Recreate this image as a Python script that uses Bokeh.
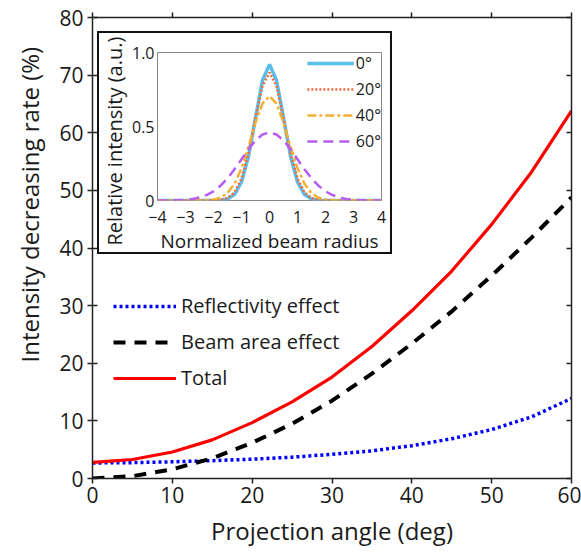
from bokeh.plotting import figure
from bokeh.models import LinearAxis, Legend, LegendItem, FixedTicker, Range1d, Title
from bokeh.embed import file_html
from bokeh.resources import INLINE

# ---- main chart data ----
angle = [0, 5, 10, 15, 20, 25, 30, 35, 40, 45, 50, 55, 60]
reflectivity = [2.7, 2.75, 2.9, 3.1, 3.35, 3.7, 4.2, 4.8, 5.7, 6.9, 8.5, 10.7, 13.9]
beam_area = [0.0, 0.4, 1.6, 3.5, 6.2, 9.5, 13.5, 18.2, 23.4, 29.0, 35.2, 41.8, 48.8]
total = [2.8, 3.3, 4.6, 6.7, 9.7, 13.3, 17.6, 22.9, 29.1, 36.0, 44.1, 53.2, 63.8]
x_ticks = [0, 10, 20, 30, 40, 50, 60]
y_ticks = [0, 10, 20, 30, 40, 50, 60, 70, 80]

# ---- inset data ----
radius = [-4, -3.75, -3.5, -3.25, -3, -2.75, -2.5, -2.25, -2, -1.75, -1.5, -1.25, -1, -0.75, -0.5, -0.25,
          0, 0.25, 0.5, 0.75, 1, 1.25, 1.5, 1.75, 2, 2.25, 2.5, 2.75, 3, 3.25, 3.5, 3.75, 4]
int_0 = [0, 0, 0, 0, 0, 0, 0, 0, 0, 0.002, 0.010, 0.040, 0.125, 0.299, 0.558, 0.812,
         0.92, 0.812, 0.558, 0.299, 0.125, 0.040, 0.010, 0.002, 0, 0, 0, 0, 0, 0, 0, 0, 0]
int_20 = [0, 0, 0, 0, 0, 0, 0, 0, 0.001, 0.004, 0.016, 0.055, 0.148, 0.320, 0.556, 0.775,
          0.865, 0.775, 0.556, 0.320, 0.148, 0.055, 0.016, 0.004, 0.001, 0, 0, 0, 0, 0, 0, 0, 0]
int_40 = [0, 0, 0, 0, 0, 0, 0, 0.002, 0.006, 0.019, 0.050, 0.113, 0.218, 0.365, 0.526, 0.655,
          0.705, 0.655, 0.526, 0.365, 0.218, 0.113, 0.050, 0.019, 0.006, 0.002, 0, 0, 0, 0, 0, 0, 0]
int_60 = [0, 0, 0.001, 0.002, 0.005, 0.010, 0.020, 0.037, 0.062, 0.100, 0.149, 0.211, 0.279, 0.347, 0.406, 0.446,
          0.46, 0.446, 0.406, 0.347, 0.279, 0.211, 0.149, 0.100, 0.062, 0.037, 0.020, 0.010, 0.005, 0.002, 0.001, 0, 0]
inset_x_ticks = [-4, -3, -2, -1, 0, 1, 2, 3, 4]
inset_y_ticks = [0, 0.5, 1.0]
inset_labels = ["0°", "20°", "40°", "60°"]

FONT = "Open Sans"
TXT = "#1a1a1a"
AX = "#222222"

p = figure(width=581, height=552, x_range=Range1d(0, 60), y_range=Range1d(0, 80),
           output_backend="svg", toolbar_location=None,
           min_border_left=92, min_border_right=10, min_border_top=17, min_border_bottom=74)
p.grid.visible = False
p.outline_line_color = None

for ax in (p.xaxis[0], p.yaxis[0]):
    ax.axis_line_width = 1.5
    ax.axis_line_color = AX
    ax.major_tick_line_color = AX
    ax.major_tick_line_width = 1.5
    ax.minor_tick_line_color = None
    ax.major_label_text_font = FONT
    ax.major_label_text_font_size = "21px"
    ax.major_label_text_color = TXT
    ax.axis_label_text_font = FONT
    ax.axis_label_text_font_size = "24px"
    ax.axis_label_text_font_style = "normal"
    ax.axis_label_text_color = TXT

p.xaxis[0].ticker = FixedTicker(ticks=x_ticks)
p.xaxis[0].major_tick_in = 0
p.xaxis[0].major_tick_out = 5
p.xaxis[0].major_label_standoff = 3
p.xaxis[0].axis_label = "Projection angle (deg)"
p.xaxis[0].axis_label_standoff = 8

p.yaxis[0].ticker = FixedTicker(ticks=y_ticks)
p.yaxis[0].major_tick_in = 5
p.yaxis[0].major_tick_out = 5
p.yaxis[0].major_label_standoff = 4

p.add_layout(Title(text="Intensity decreasing rate (%)", align="left", offset=116,
                   vertical_align="middle", standoff=19,
                   text_font=FONT, text_font_size="24px", text_font_style="normal",
                   text_color=TXT), "left")

top_ax = LinearAxis(ticker=FixedTicker(ticks=x_ticks), major_tick_in=0, major_tick_out=5,
                    major_label_text_font_size="0px", axis_line_width=1.5, axis_line_color=AX,
                    major_tick_line_width=1.5, major_tick_line_color=AX,
                    minor_tick_line_color=None, major_label_standoff=0)
right_ax = LinearAxis(ticker=FixedTicker(ticks=y_ticks), major_tick_in=5, major_tick_out=0,
                      major_label_text_font_size="0px", axis_line_width=1.5, axis_line_color=AX,
                      major_tick_line_width=1.5, major_tick_line_color=AX,
                      minor_tick_line_color=None, major_label_standoff=0)
p.add_layout(top_ax, "above")
p.add_layout(right_ax, "right")

r_refl = p.line(angle, reflectivity, line_color="#0000FF", line_width=3.5, line_dash="3 3")
r_beam = p.line(angle, beam_area, line_color="#000000", line_width=4, line_dash="12 9")
r_tot = p.line(angle, total, line_color="#FF0000", line_width=3.2)

leg = Legend(items=[LegendItem(label="Reflectivity effect", renderers=[r_refl]),
                    LegendItem(label="Beam area effect", renderers=[r_beam]),
                    LegendItem(label="Total", renderers=[r_tot])],
             location=(21, 87), padding=0, margin=0, spacing=9,
             glyph_width=63, glyph_height=20, label_height=20, label_standoff=5,
             label_text_font=FONT, label_text_font_size="20px", label_text_color=TXT,
             border_line_color=None, background_fill_alpha=0)
p.add_layout(leg)

# ---- inset ----
ins = figure(width=295, height=223, x_range=Range1d(-4, 4), y_range=Range1d(0, 1),
             output_backend="svg", toolbar_location=None,
             min_border_left=57, min_border_right=13, min_border_top=19, min_border_bottom=55,
             styles={"position": "absolute", "left": "97px", "top": "31px",
                     "border": "2px solid #111111", "background": "white"})
ins.grid.visible = False
ins.outline_line_color = "#888888"
ins.outline_line_width = 1
for ax in (ins.xaxis[0], ins.yaxis[0]):
    ax.axis_line_color = None
    ax.major_tick_line_color = None
    ax.major_tick_in = 0
    ax.major_tick_out = 0
    ax.minor_tick_line_color = None
    ax.major_label_text_font = FONT
    ax.major_label_text_font_size = "16px"
    ax.major_label_text_color = TXT
    ax.axis_label_text_font = FONT
    ax.axis_label_text_font_size = "19px"
    ax.axis_label_text_font_style = "normal"
    ax.axis_label_text_color = TXT
ins.xaxis[0].ticker = FixedTicker(ticks=inset_x_ticks)
ins.xaxis[0].major_label_standoff = 10
ins.xaxis[0].axis_label = "Normalized beam radius"
ins.xaxis[0].axis_label_standoff = 2
ins.yaxis[0].ticker = FixedTicker(ticks=inset_y_ticks)
ins.yaxis[0].major_label_overrides = {0: "0", 0.5: "0.5", 1: "1.0"}
ins.yaxis[0].major_label_standoff = 3

ins.add_layout(Title(text="Relative intensity (a.u.)", align="left", offset=-45,
                     vertical_align="middle", standoff=0,
                     text_font=FONT, text_font_size="20px", text_font_style="normal",
                     text_color=TXT), "left")

q0 = ins.line(radius, int_0, line_color="#5BBDEB", line_width=3.5)
q20 = ins.line(radius, int_20, line_color="#F26B3A", line_width=2.5, line_dash="2 2")
q40 = ins.line(radius, int_40, line_color="#F2B134", line_width=2.5, line_dash="9 3 3 3")
q60 = ins.line(radius, int_60, line_color="#B65CF2", line_width=2.5, line_dash="10 6")

ileg = Legend(items=[LegendItem(label=inset_labels[0], renderers=[q0]),
                     LegendItem(label=inset_labels[1], renderers=[q20]),
                     LegendItem(label=inset_labels[2], renderers=[q40]),
                     LegendItem(label=inset_labels[3], renderers=[q60])],
              location="top_right", padding=1, margin=0, spacing=4,
              glyph_width=47, glyph_height=20, label_height=20, label_standoff=2,
              label_text_font=FONT, label_text_font_size="16px", label_text_color=TXT,
              border_line_color=None, background_fill_alpha=0)
ins.add_layout(ileg)

open("out.html", "w").write(file_html([p, ins], INLINE))
